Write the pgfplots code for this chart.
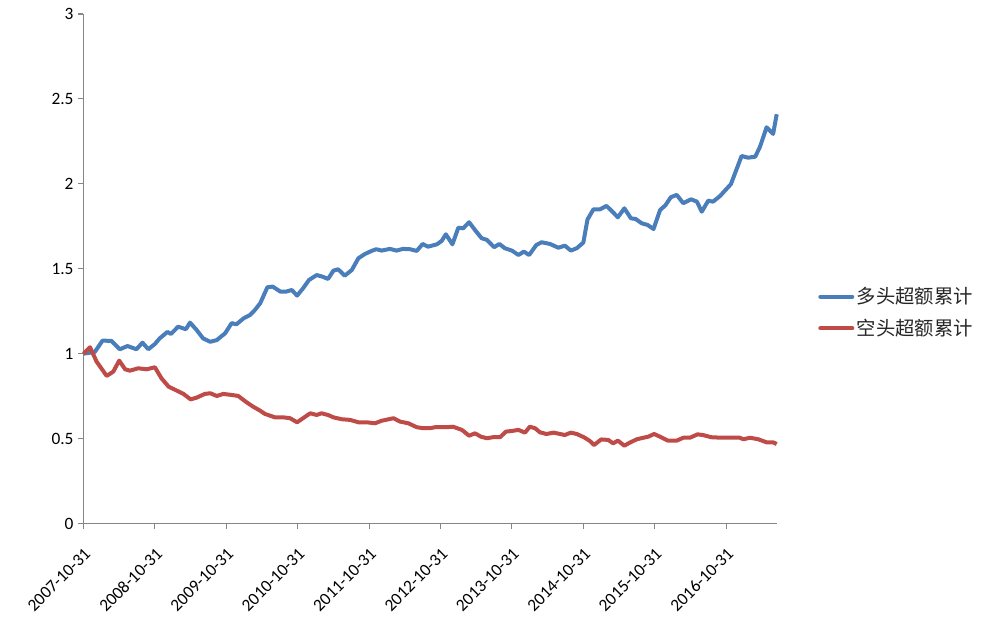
\documentclass[border=0pt]{standalone}
\usepackage{fontspec}
\setmainfont{Carlito}
\newfontfamily\cjk{Noto Sans CJK SC}
\usepackage{pgfplots}
\pgfplotsset{compat=1.18}
\definecolor{bl}{HTML}{4A7EBB}
\definecolor{rd}{HTML}{BE4B48}
\definecolor{ax}{HTML}{868686}
\begin{document}
\begin{tikzpicture}[x=1pt,y=1pt]
\path[use as bounding box] (-62.625,-75.375) rectangle (684.375,392.625);
\begin{axis}[
  at={(0,0)}, anchor=south west,
  scale only axis, width=519.9pt, height=382.1pt,
  xmin=0, xmax=116.5, ymin=0, ymax=3,
  axis lines=left, axis line style={draw=ax, line width=0.8pt, -},
  xtick={0,12,24,36,48,60,72,84,96,108},
  xticklabels={2007-10-31,2008-10-31,2009-10-31,2010-10-31,2011-10-31,2012-10-31,2013-10-31,2014-10-31,2015-10-31,2016-10-31},
  ytick={0,0.5,1,1.5,2,2.5,3},
  tick align=outside, major tick length=4pt,
  tick style={draw=ax, line width=0.8pt},
  xticklabel shift=12pt,
  x tick label style={rotate=45, anchor=north east, font=\fontsize{13}{15}\selectfont, inner sep=1pt},
  y tick label style={font=\fontsize{13}{15}\selectfont},
  /pgf/number format/assume math mode=true,
  legend style={at={(1.0596,0.414)}, anchor=west, draw=none, fill=none,
    font=\cjk\fontsize{14.5}{16}\selectfont, row sep=6pt, inner sep=0pt,
    nodes={inner sep=2pt, text=black!85}},
  legend cell align=left,
  legend image code/.code={\draw[#1, line width=3pt, line cap=round] (0pt,0pt) -- (24pt,0pt);},
  clip=false,
]
\addplot[bl, line width=3pt, line join=round] coordinates {
(0,1.0)(1.9,1.01)(3.2,1.077)(4.7,1.075)(6.1,1.026)(7.4,1.045)(8.9,1.026)(9.9,1.065)(10.9,1.026)(12.0,1.057)
(12.8,1.09)(14.1,1.128)(14.7,1.116)(15.9,1.159)(17.2,1.144)(17.9,1.183)(19.0,1.14)(20.1,1.09)(21.3,1.07)(22.4,1.08)
(23.8,1.12)(24.9,1.18)(25.7,1.173)(26.9,1.208)(28.0,1.228)(28.8,1.257)(29.7,1.297)(30.9,1.391)(31.8,1.395)(33.1,1.365)
(34.0,1.365)(35.0,1.375)(35.9,1.342)(36.9,1.385)(37.9,1.434)(39.2,1.463)(40.2,1.453)(41.1,1.44)(42.0,1.489)(42.8,1.497)
(43.9,1.459)(45.1,1.493)(46.2,1.562)(47.3,1.587)(48.4,1.605)(49.2,1.615)(50.1,1.607)(51.5,1.617)(52.6,1.607)(53.7,1.617)
(54.9,1.615)(56.0,1.605)(57.0,1.646)(57.9,1.63)(59.4,1.644)(60.2,1.664)(60.9,1.703)(62.0,1.644)(63.0,1.742)(63.8,1.738)
(64.8,1.774)(65.8,1.728)(66.9,1.68)(67.8,1.67)(69.0,1.627)(69.9,1.646)(70.8,1.621)(72.0,1.607)(73.1,1.581)(74.0,1.601)
(74.9,1.581)(76.1,1.64)(77.0,1.656)(78.4,1.646)(79.8,1.624)(80.9,1.636)(81.9,1.607)(82.9,1.621)(84.0,1.654)(84.7,1.79)
(85.7,1.85)(86.8,1.85)(87.9,1.87)(88.9,1.836)(89.8,1.803)(90.9,1.856)(92.0,1.797)(92.8,1.793)(93.8,1.768)(94.8,1.758)
(95.8,1.734)(96.9,1.846)(97.8,1.874)(98.7,1.921)(99.7,1.935)(100.8,1.886)(102.1,1.909)(103.1,1.895)(103.9,1.836)(105.0,1.901)
(105.8,1.895)(107.0,1.929)(107.9,1.964)(108.8,1.998)(110.6,2.164)(111.7,2.154)(112.9,2.16)(113.7,2.219)(114.8,2.333)(115.9,2.294)
(116.5,2.41)
};
\addlegendentry{多头超额累计}
\addplot[rd, line width=3pt, line join=round] coordinates {
(0,1.0)(1.1,1.038)(2.2,0.953)(3.9,0.869)(5.0,0.894)(6.0,0.959)(7.0,0.908)(7.8,0.9)(9.2,0.914)(10.6,0.908)
(12.0,0.92)(13.1,0.855)(14.3,0.806)(15.7,0.782)(16.8,0.763)(18.0,0.731)(19.0,0.741)(20.4,0.763)(21.3,0.767)(22.4,0.751)
(23.5,0.763)(24.9,0.757)(26.0,0.751)(27.4,0.714)(28.5,0.688)(29.7,0.664)(30.5,0.645)(32.2,0.625)(33.6,0.625)(34.7,0.62)
(35.9,0.596)(37.1,0.625)(38.1,0.649)(39.2,0.639)(40.0,0.649)(41.1,0.639)(42.0,0.625)(43.4,0.614)(44.8,0.61)(46.2,0.596)
(47.6,0.596)(49.0,0.59)(50.1,0.605)(52.1,0.62)(53.2,0.6)(54.6,0.59)(56.0,0.567)(57.1,0.561)(58.2,0.561)(59.1,0.567)
(61.0,0.567)(62.1,0.57)(63.6,0.551)(64.8,0.517)(65.8,0.531)(66.8,0.511)(67.8,0.502)(68.8,0.508)(70.0,0.508)(71.0,0.541)
(72.0,0.545)(73.1,0.551)(74.2,0.535)(75.0,0.57)(75.9,0.561)(76.7,0.537)(77.8,0.527)(79.0,0.535)(80.1,0.527)(80.9,0.521)
(81.9,0.535)(82.9,0.527)(84.1,0.508)(85.1,0.486)(85.8,0.462)(87.0,0.495)(88.2,0.492)(89.0,0.472)(89.8,0.488)(90.9,0.458)
(91.8,0.476)(93.0,0.496)(94.1,0.505)(94.9,0.511)(95.9,0.527)(96.9,0.511)(98.2,0.488)(99.7,0.488)(100.8,0.505)(101.9,0.505)
(103.2,0.525)(104.1,0.521)(105.5,0.508)(107.3,0.505)(108.9,0.505)(110.3,0.505)(110.9,0.496)(112.0,0.505)(113.4,0.496)(114.8,0.478)
(115.9,0.478)(116.5,0.468)
};
\addlegendentry{空头超额累计}
\end{axis}
\end{tikzpicture}
\end{document}
